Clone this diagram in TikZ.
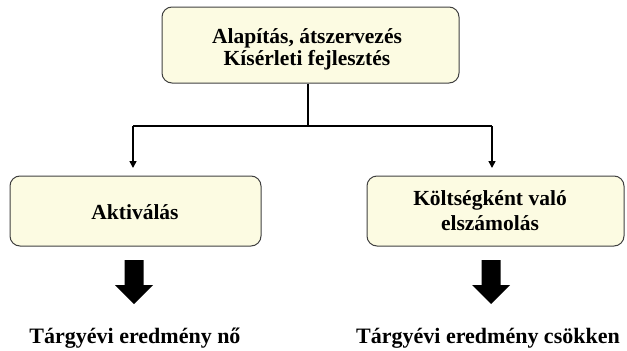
\documentclass[tikz,border=0pt]{standalone}
\usepackage{fontspec}
\setmainfont{Liberation Serif}
\usetikzlibrary{arrows.meta}
\definecolor{boxfill}{HTML}{FCFBE2}
\definecolor{boxline}{HTML}{404040}
\tikzset{
  box/.style={draw=boxline, line width=1pt, fill=boxfill, rounded corners=10pt},
  boxtext/.style={align=center, inner sep=0pt, anchor=base,
    font=\fontsize{21.5}{23}\selectfont\bfseries},
  link/.style={line width=1.6pt, -{Triangle[length=7pt,width=7pt]}},
  lbl/.style={font=\fontsize{22}{26}\selectfont\bfseries, inner sep=0pt, anchor=base},
}
\begin{document}
\begin{tikzpicture}[x=1pt,y=-1pt]
\useasboundingbox (0,0) rectangle (627,351);
% boxes
\node[box, minimum width=297pt, minimum height=76pt] (top) at (310.5,45) {};
\node[box, minimum width=251pt, minimum height=70pt] (left) at (135.5,211) {};
\node[box, minimum width=257pt, minimum height=70pt] (right) at (495.5,211) {};
% box texts
\node[boxtext] (t1) at (307,43) {Alapítás, átszervezés};
\node[boxtext] (t2) at (307,65) {Kísérleti fejlesztés};
\node[boxtext] (l1) at (135,219) {Aktiválás};
\node[boxtext] (r1) at (490,205.5) {Költségként való};
\node[boxtext] (r2) at (490,230) {elszámolás};
% connectors
\coordinate (split) at (308,126);
\coordinate (lturn) at (133,126);
\coordinate (rturn) at (492,126);
\draw[line width=1.6pt] (top.south -| split) -- (split);
\draw[line width=1.6pt] (lturn) -- (rturn);
\draw[link] (lturn) -- (lturn |- 0,168);
\draw[link] (rturn) -- (rturn |- 0,168);
% block arrows
\foreach \cx in {134, 491}{
  \fill (\cx-9.5,260) -- (\cx+9.5,260) -- (\cx+9.5,285) -- (\cx+19,285) -- (\cx,304) -- (\cx-19,285) -- (\cx-9.5,285) -- cycle;
}
% results
\node[lbl] (lres) at (135,343) {Tárgyévi eredmény nő};
\node[lbl] (rres) at (488,343) {Tárgyévi eredmény csökken};
\end{tikzpicture}
\end{document}
